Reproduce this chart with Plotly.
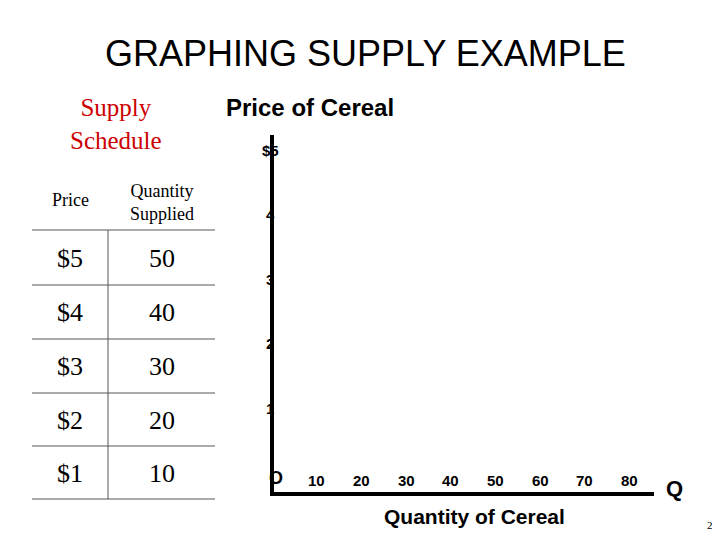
import plotly.graph_objects as go

prices = ["$5", "$4", "$3", "$2", "$1"]
quantities = [50, 40, 30, 20, 10]
y_ticks = [1, 2, 3, 4, 5]
y_tick_labels = ["1", "2", "3", "4", "$5"]
x_ticks = [10, 20, 30, 40, 50, 60, 70, 80]

W, H = 720, 540
def px(x): return x / W
def py(y): return 1 - y / H

fig = go.Figure()
fig.add_trace(go.Scatter(x=[None], y=[None], showlegend=False))

ann = []
shapes = []
black = "black"

ann.append(dict(text="GRAPHING SUPPLY EXAMPLE", x=px(357), y=py(45), font=dict(family="Arial", size=36, color=black)))
ann.append(dict(text="Supply<br>Schedule", x=px(108), y=py(116), font=dict(family="Liberation Serif", size=25, color="#cc0000")))
ann.append(dict(text="<b>Price of Cereal</b>", x=px(302), y=py(100), font=dict(family="Arial", size=24, color=black)))
ann.append(dict(text="Price", x=px(62), y=py(192), font=dict(family="Liberation Serif", size=18, color=black)))
ann.append(dict(text="Quantity<br>Supplied", x=px(154), y=py(194), font=dict(family="Liberation Serif", size=18, color=black)))

row_y = [250, 304, 358, 412, 465]
for p, q, ry in zip(prices, quantities, row_y):
    ann.append(dict(text=p, x=px(62), y=py(ry), font=dict(family="Liberation Serif", size=26, color=black)))
    ann.append(dict(text=str(q), x=px(154), y=py(ry), font=dict(family="Liberation Serif", size=26, color=black)))

for ly in [222, 277, 331, 385, 438, 491]:
    shapes.append(dict(type="line", xref="paper", yref="paper", x0=px(24), x1=px(207), y0=py(ly), y1=py(ly), line=dict(color="#555", width=1)))
shapes.append(dict(type="line", xref="paper", yref="paper", x0=px(100), x1=px(100), y0=py(222), y1=py(491), line=dict(color="#555", width=1)))

for v, lab in zip(y_ticks, y_tick_labels):
    ann.append(dict(text="<b>%s</b>" % lab, x=px(262), xref="paper", y=v, yref="y", font=dict(family="Arial", size=15, color=black)))
ann.append(dict(text="<b>O</b>", x=px(268), y=py(470), font=dict(family="Arial", size=18, color=black)))
for v in x_ticks:
    ann.append(dict(text="<b>%d</b>" % v, x=v, xref="x", y=py(472), yref="paper", font=dict(family="Arial", size=15, color=black)))
ann.append(dict(text="<b>Q</b>", x=px(666), y=py(480), font=dict(family="Arial", size=22, color=black)))
ann.append(dict(text="<b>Quantity of Cereal</b>", x=px(466), y=py(508), font=dict(family="Arial", size=21, color=black)))
ann.append(dict(text="28", x=px(705), y=py(517), font=dict(family="Liberation Serif", size=11, color=black)))

for a in ann:
    a.setdefault("xref", "paper")
    a.setdefault("yref", "paper")
    a["showarrow"] = False
    a["xanchor"] = "center"
    a["yanchor"] = "middle"

x_left, x_right, y_bot, y_top = 266, 646, 484, 127
fig.update_layout(
    width=W, height=H, margin=dict(l=0, r=0, t=0, b=0),
    paper_bgcolor="white", plot_bgcolor="white",
    annotations=ann, shapes=shapes,
    xaxis=dict(domain=[px(x_left), px(x_right)], range=[(x_left - 264) / 4.47, (x_right - 264) / 4.47],
               showgrid=False, zeroline=False, showticklabels=False, ticks="",
               showline=True, linecolor=black, linewidth=4),
    yaxis=dict(domain=[py(y_bot), py(y_top)], range=[(464.5 - y_bot) / 64.5, (464.5 - y_top) / 64.5],
               showgrid=False, zeroline=False, showticklabels=False, ticks="",
               showline=True, linecolor=black, linewidth=4),
)
fig.write_html("out.html")
